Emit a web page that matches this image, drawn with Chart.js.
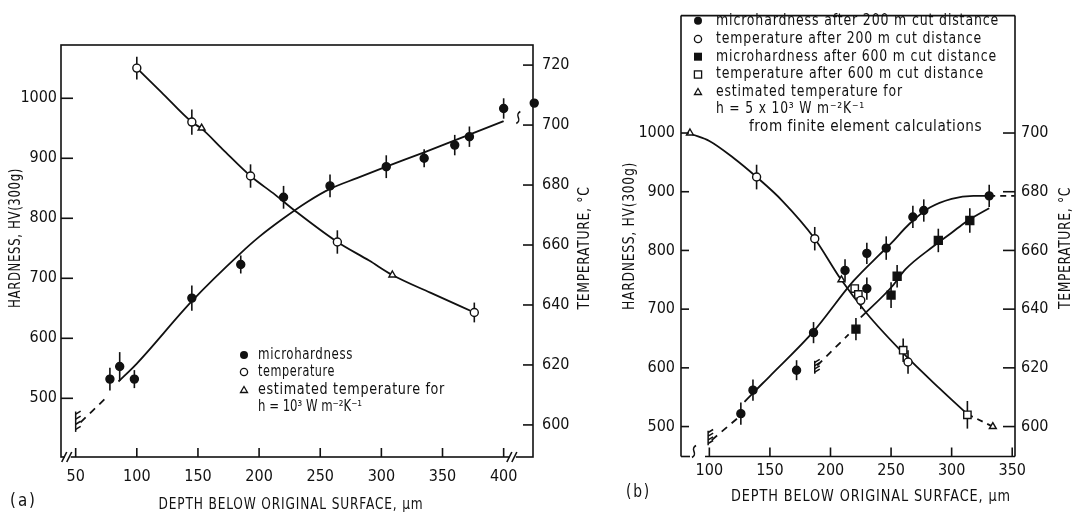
<!DOCTYPE html>
<html>
<head>
<meta charset="utf-8">
<script src="https://cdn.jsdelivr.net/npm/chart.js@4.4.0/dist/chart.umd.min.js"></script>
<style>
  body { margin: 0; background: #fff; width: 1081px; height: 518px; overflow: hidden; position: relative; }
  canvas { position: absolute; top: 0; }
  #chartA { left: 0; }
  #chartB { left: 600px; }
</style>
</head>
<body>
<canvas id="chartA" width="600" height="518"></canvas>
<canvas id="chartB" width="481" height="518"></canvas>
<script>
const INK = '#111';
const FONT = '"Liberation Sans Narrow", "DejaVu Sans Condensed", sans-serif';

// ---------- panel (a) ----------
const xTicksA = [50, 100, 150, 200, 250, 300, 350, 400];
const hvTicksA = [500, 600, 700, 800, 900, 1000];
const tTicksA = [600, 620, 640, 660, 680, 700, 720];

const depthHardA = [78, 86, 98, 145, 185, 220, 258, 304, 335, 360, 372, 400, 425];
const hardA      = [532, 553, 532, 667, 723, 835, 854, 886, 900, 922, 936, 983, 992];
const hardErrA   = [19, 24, 15, 21, 15, 19, 19, 19, 15, 17, 17, 17, 0];

const depthTempA = [100, 145, 193, 264, 376];
const tempA      = [719, 701, 683, 661, 637.5];
const tempErrA   = [3.8, 4.2, 3.9, 3.9, 3.3];

const depthEstA = [153, 309];
const estA      = [699, 650];

// curves
const fitHardDashXA = [54, 77];
const fitHardDashYA = [460, 505];
const fitHardXA = [85, 100, 145, 185, 200, 220, 240, 258, 280, 304, 335, 360, 400];
const fitHardYA = [528, 558, 662, 742, 769, 800, 828, 849, 867, 886, 910, 930, 962];
const fitTempXA = [100, 120, 145, 153, 170, 193, 213, 230, 264, 290, 309, 340, 376];
const fitTempYA = [719, 711, 701, 698.8, 692, 683, 676.8, 671.2, 661, 654.8, 650, 644.1, 637.5];

const legendA = ['microhardness', 'temperature', 'estimated temperature for', 'h = 10³ W m⁻²K⁻¹'];
const legendWidthA = [95, 77, 187, 104];

// ---------- panel (b) ----------
const xTicksB = [100, 150, 200, 250, 300, 350];
const hvTicksB = [500, 600, 700, 800, 900, 1000];
const tTicksB = [600, 620, 640, 660, 680, 700];

const depthHard200 = [126, 136, 172, 186, 212, 230, 230, 246, 268, 277, 331];
const hard200      = [522, 562, 596, 660, 766, 795, 735, 804, 857, 868, 893];
const hardErr200   = [19, 18, 17, 18, 19, 18, 19, 20, 19, 19, 19];

const depthHard600 = [221, 250, 255, 289, 315];
const hard600      = [666, 724, 756, 817, 851];
const hardErr600   = [19, 22, 19, 20, 21];

const depthTemp200 = [139, 187, 225, 264];
const temp200      = [685, 664, 643, 622];
const tempErr200   = [4.2, 4, 3, 4];

const depthTemp600 = [220, 223, 260, 313];
const temp600      = [647, 645, 626, 604];
const tempErr600   = [0, 0, 4, 4.7];

const depthEstB = [84, 209, 334];
const estB      = [700, 650, 600];

const fitTempXB = [86, 100, 120, 139, 160, 187, 208, 230, 260, 290, 313];
const fitTempYB = [699.5, 697.3, 691.5, 685, 677, 664, 650.5, 638.5, 625, 613, 604.2];
const fitTempDashXB = [313, 334];
const fitTempDashYB = [604.2, 600];

const fitH200DashX = [102, 126];
const fitH200DashY = [477, 519];
const fitH200X = [129, 136, 150, 186, 219, 240, 250, 265, 282, 300, 318, 331];
const fitH200Y = [542, 557, 586, 662, 748, 792, 812, 845, 873, 888, 893, 893];
const fitH200EndX = [331, 352];
const fitH200EndY = [893, 893];

const fitH600DashX = [189, 215];
const fitH600DashY = [604, 657];
const fitH600X = [225, 251, 262, 285, 300, 312, 331];
const fitH600Y = [686, 739, 768, 807, 830, 849, 872];

const legendB = [
  'microhardness after 200 m cut distance',
  'temperature after 200 m cut distance',
  'microhardness after 600 m cut distance',
  'temperature after 600 m cut distance',
  'estimated temperature for',
  'h = 5 x 10³ W m⁻²K⁻¹',
  'from finite element calculations'
];
const legendWidthB = [283, 266, 281, 268, 187, 149, 233];

const xTitle = 'DEPTH BELOW ORIGINAL SURFACE, µm';

// ---------- helpers ----------
function pts(xs, ys) { return xs.map((x, i) => ({ x, y: ys[i] })); }

function marks(xs, ys, errs, axis, style, open, r) {
  return {
    data: pts(xs, ys), errs, yAxisID: axis, showLine: false, clip: false,
    pointStyle: style, pointRadius: r, pointBorderWidth: 1.4,
    pointBackgroundColor: open ? '#fff' : INK, pointBorderColor: INK
  };
}

function curve(xs, ys, axis, dash) {
  return {
    data: pts(xs, ys), yAxisID: axis, showLine: true, pointRadius: 0,
    borderColor: INK, borderWidth: 1.8, cubicInterpolationMode: 'monotone',
    borderDash: dash || [], fill: false
  };
}

function seg(ctx, x1, y1, x2, y2) { ctx.beginPath(); ctx.moveTo(x1, y1); ctx.lineTo(x2, y2); ctx.stroke(); }

// text squeezed/stretched to the width it has in the figure
function label(ctx, s, x, y, o) {
  o = o || {};
  ctx.save();
  ctx.font = (o.size || 15) + 'px ' + FONT;
  ctx.letterSpacing = (o.ls || 0) + 'px';
  ctx.textAlign = o.align || 'left';
  ctx.textBaseline = 'middle';
  ctx.fillStyle = INK;
  const k = o.w ? o.w / ctx.measureText(s).width : 1;
  ctx.translate(x, y);
  if (o.rot) ctx.rotate(o.rot);
  ctx.scale(k, 1);
  ctx.fillText(s, 0, 0);
  ctx.restore();
}

function legendMark(ctx, kind, x, y) {
  ctx.save();
  ctx.lineWidth = 1.3; ctx.strokeStyle = INK; ctx.fillStyle = INK;
  ctx.beginPath();
  if (kind === 'dot') { ctx.arc(x, y, 4, 0, 2 * Math.PI); ctx.fill(); }
  else if (kind === 'ring') { ctx.arc(x, y, 3.6, 0, 2 * Math.PI); ctx.stroke(); }
  else if (kind === 'block') { ctx.fillRect(x - 4, y - 4, 8, 8); }
  else if (kind === 'box') { ctx.strokeRect(x - 3.6, y - 3.6, 7.2, 7.2); }
  else { ctx.moveTo(x, y - 3.5); ctx.lineTo(x + 3.5, y + 2.5); ctx.lineTo(x - 3.5, y + 2.5); ctx.closePath(); ctx.stroke(); }
  ctx.restore();
}

// surface symbol: vertical stroke with small hooks
function hatch(ctx, px, top, bottom) {
  seg(ctx, px, top, px, bottom);
  for (let i = 0; i < 4; i++) {
    const y = top + (bottom - top) * (i + 0.5) / 4;
    seg(ctx, px, y, px + 5, y - 3);
  }
}

function squiggle(ctx, x, y, h) {
  ctx.beginPath();
  ctx.moveTo(x + 2, y - h);
  ctx.bezierCurveTo(x - 5, y - h * 0.3, x + 5, y + h * 0.3, x - 2, y + h);
  ctx.stroke();
}

function axisBreak(ctx, x, y) {
  ctx.save();
  ctx.fillStyle = '#fff';
  ctx.fillRect(x - 3, y - 2, 6, 4);
  seg(ctx, x - 6, y + 5, x - 1, y - 5);
  seg(ctx, x - 1, y + 5, x + 4, y - 5);
  ctx.restore();
}

// vertical error bars, drawn under the markers
const errorBars = {
  id: 'errorBars',
  beforeDatasetsDraw(chart) {
    const ctx = chart.ctx;
    ctx.save();
    ctx.strokeStyle = INK; ctx.lineWidth = 1.6;
    chart.data.datasets.forEach(ds => {
      if (!ds.errs) return;
      const xs = chart.scales.x, ys = chart.scales[ds.yAxisID];
      ds.data.forEach((p, j) => {
        const e = ds.errs[j];
        if (!e) return;
        const px = xs.getPixelForValue(p.x);
        seg(ctx, px, ys.getPixelForValue(p.y + e), px, ys.getPixelForValue(p.y - e));
      });
    });
    ctx.restore();
  }
};

function drawA(chart) {
  const ctx = chart.ctx, a = chart.chartArea;
  const sx = chart.scales.x, sy = chart.scales.y, st = chart.scales.y2;
  ctx.save();
  ctx.strokeStyle = INK; ctx.lineWidth = 1.6;
  ctx.strokeRect(a.left, a.top, a.right - a.left, a.bottom - a.top);
  xTicksA.forEach(v => { const p = sx.getPixelForValue(v); seg(ctx, p, a.bottom, p, a.bottom - 9); });
  hvTicksA.forEach(v => { const p = sy.getPixelForValue(v); seg(ctx, a.left, p, a.left + 12, p); });
  tTicksA.forEach(v => { const p = st.getPixelForValue(v); seg(ctx, a.right, p, a.right - 10, p); });
  axisBreak(ctx, sx.getPixelForValue(43.5), a.bottom);
  axisBreak(ctx, sx.getPixelForValue(407.5), a.bottom);
  ctx.lineWidth = 1.5;
  squiggle(ctx, sx.getPixelForValue(412), sy.getPixelForValue(968), 6);
  hatch(ctx, sx.getPixelForValue(50), sy.getPixelForValue(478), sy.getPixelForValue(444));

  label(ctx, 'HARDNESS, HV(300g)', 16, 238, { size: 16, ls: 0.8, rot: -Math.PI / 2, align: 'center', w: 140 });
  label(ctx, 'TEMPERATURE, °C', 585, 248, { size: 16, ls: 0.8, rot: -Math.PI / 2, align: 'center', w: 123 });
  label(ctx, xTitle, 291, 505, { size: 16, align: 'center', ls: 1, w: 265 });
  label(ctx, '(a)', 10, 502, { size: 17, ls: 2, w: 27 });

  const kinds = ['dot', 'ring', 'tri'];
  const rows = [355, 372, 390, 407];
  legendA.forEach((s, i) => {
    if (kinds[i]) legendMark(ctx, kinds[i], 244, rows[i]);
    label(ctx, s, 258, rows[i], { size: i === 3 ? 16 : 15, ls: i === 3 ? 0 : 0.7, w: legendWidthA[i] });
  });
  ctx.restore();
}

function drawB(chart) {
  const ctx = chart.ctx, a = chart.chartArea;
  const sx = chart.scales.x, sy = chart.scales.y, st = chart.scales.y2;
  ctx.save();
  ctx.strokeStyle = INK; ctx.lineWidth = 1.6;
  seg(ctx, a.left, a.bottom, a.left, a.top);
  seg(ctx, a.left, a.top, a.right, a.top);
  seg(ctx, a.right, a.top, a.right, a.bottom);
  seg(ctx, a.right, a.bottom, a.left + 24, a.bottom);
  seg(ctx, a.left, a.bottom, a.left + 9, a.bottom);
  squiggle(ctx, a.left + 13, a.bottom - 5, 6);
  xTicksB.forEach(v => { const p = sx.getPixelForValue(v); seg(ctx, p, a.bottom, p, a.bottom - 9); });
  hvTicksB.forEach(v => { const p = sy.getPixelForValue(v); seg(ctx, a.left, p, a.left + 8, p); });
  tTicksB.forEach(v => { const p = st.getPixelForValue(v); seg(ctx, a.right, p, a.right - 12, p); });
  ctx.lineWidth = 1.5;
  hatch(ctx, sx.getPixelForValue(99), sy.getPixelForValue(493), sy.getPixelForValue(468));
  hatch(ctx, sx.getPixelForValue(187), sy.getPixelForValue(612), sy.getPixelForValue(590));

  label(ctx, 'HARDNESS, HV(300g)', 30, 236, { size: 16, ls: 0.8, rot: -Math.PI / 2, align: 'center', w: 148 });
  label(ctx, 'TEMPERATURE, °C', 466, 248, { size: 16, ls: 0.8, rot: -Math.PI / 2, align: 'center', w: 122 });
  label(ctx, xTitle, 271, 497, { size: 16, align: 'center', ls: 1, w: 280 });
  label(ctx, '(b)', 26, 493, { size: 17, ls: 2, w: 25 });

  const kinds = ['dot', 'ring', 'block', 'box', 'tri'];
  const rows = [20.7, 39, 56.7, 74.5, 92, 109.5];
  legendB.forEach((s, i) => {
    if (i < 6) {
      if (kinds[i]) legendMark(ctx, kinds[i], 98, rows[i]);
      label(ctx, s, 116, rows[i], { size: 15, ls: 0.9, w: legendWidthB[i] });
    } else {
      label(ctx, s, 149, 127, { size: 15, ls: 0.5, w: legendWidthB[i] });
    }
  });
  ctx.restore();
}

function axis(pos, min, max, ticks, width, pad) {
  return {
    type: 'linear', position: pos, min, max,
    afterBuildTicks: s => { s.ticks = ticks.map(v => ({ value: v })); },
    afterFit: s => { if (pos === 'bottom') s.height = width; else s.width = width; },
    grid: { display: false, drawTicks: false },
    border: { display: false },
    ticks: {
      color: INK, padding: pad, autoSkip: false, maxRotation: 0,
      font: { family: FONT, size: 16 },
      callback: v => String(v)
    }
  };
}

function makeChart(id, datasets, scales, top, deco) {
  return new Chart(document.getElementById(id), {
    type: 'scatter',
    data: { datasets },
    options: {
      responsive: false, animation: false, events: [],
      layout: { padding: { top, left: 0, right: 0, bottom: 0 }, autoPadding: false },
      plugins: { legend: { display: false }, tooltip: { enabled: false } },
      scales
    },
    plugins: [errorBars, { id: 'deco' + id, afterDraw: deco }]
  });
}

makeChart('chartA', [
  marks(depthHardA, hardA, hardErrA, 'y', 'circle', false, 4),
  marks(depthTempA, tempA, tempErrA, 'y2', 'circle', true, 4),
  marks(depthEstA, estA, null, 'y2', 'triangle', true, 4),
  curve(fitHardDashXA, fitHardDashYA, 'y', [7, 6]),
  curve(fitHardXA, fitHardYA, 'y'),
  curve(fitTempXA, fitTempYA, 'y2')
], {
  x: axis('bottom', 38, 424, xTicksA, 61, 10),
  y: axis('left', 402.2, 1088.8, hvTicksA, 61, 4),
  y2: axis('right', 589.3, 726.7, tTicksA, 67, 9)
}, 45, drawA);

makeChart('chartB', [
  marks(depthHard200, hard200, hardErr200, 'y', 'circle', false, 4),
  marks(depthHard600, hard600, hardErr600, 'y', 'rect', false, 5.6),
  marks(depthTemp200, temp200, tempErr200, 'y2', 'circle', true, 4),
  marks(depthTemp600, temp600, tempErr600, 'y2', 'rect', true, 5.2),
  marks(depthEstB, estB, null, 'y2', 'triangle', true, 4),
  curve(fitTempXB, fitTempYB, 'y2'),
  curve(fitTempDashXB, fitTempDashYB, 'y2', [6, 5]),
  curve(fitH200DashX, fitH200DashY, 'y', [7, 6]),
  curve(fitH200X, fitH200Y, 'y'),
  curve(fitH200EndX, fitH200EndY, 'y', [6, 5]),
  curve(fitH600DashX, fitH600DashY, 'y', [7, 6]),
  curve(fitH600X, fitH600Y, 'y')
], {
  x: axis('bottom', 76.6, 352.3, xTicksB, 61.5, 5),
  y: axis('left', 449, 1200, hvTicksB, 81, 6),
  y2: axis('right', 589.8, 740, tTicksB, 66, 6)
}, 6, drawB);
</script>
</body>
</html>
